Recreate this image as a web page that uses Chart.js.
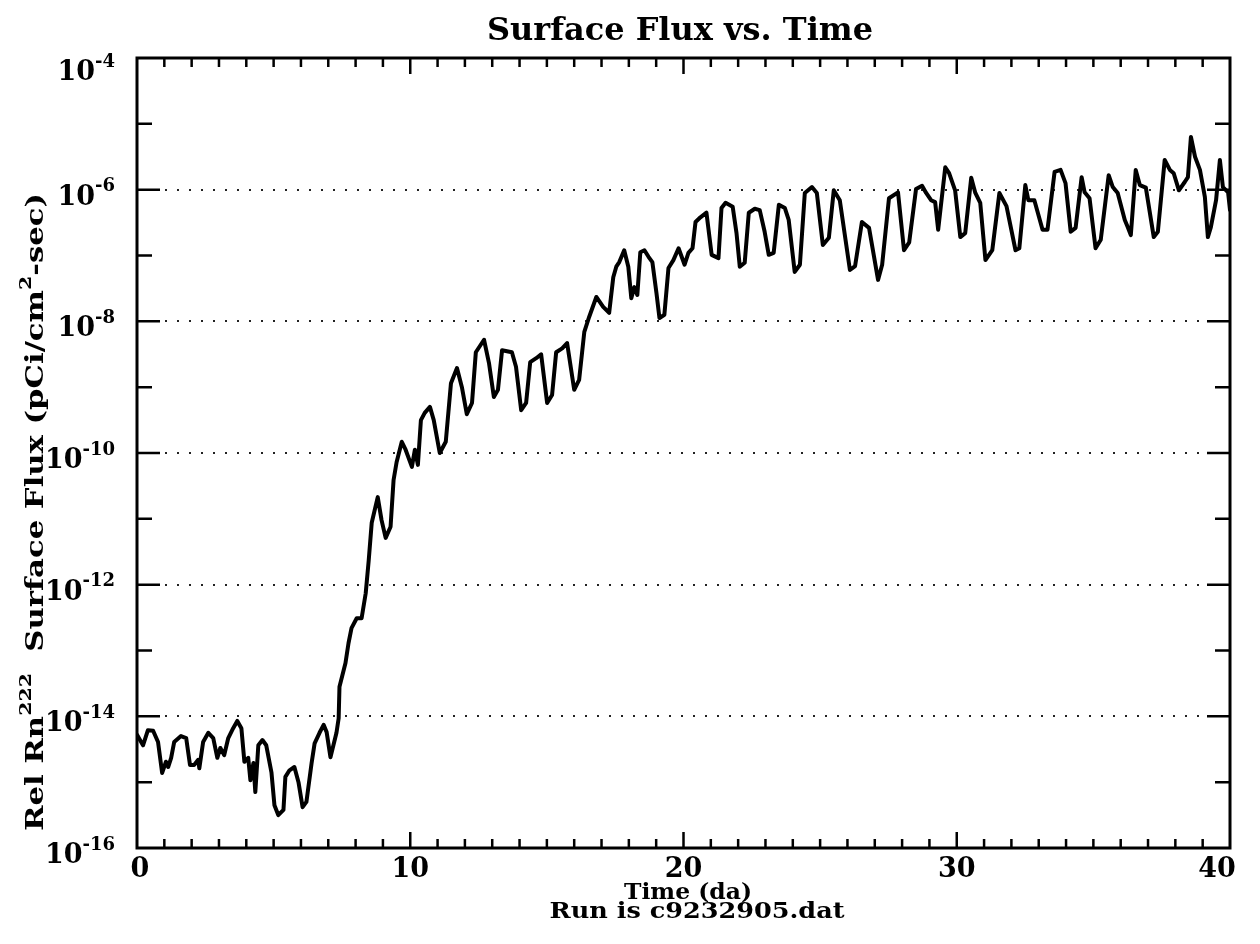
<!DOCTYPE html>
<html>
<head>
<meta charset="utf-8">
<title>Surface Flux vs. Time</title>
<script src="https://cdn.jsdelivr.net/npm/chart.js@4/dist/chart.umd.min.js"></script>
<style>
  html, body { margin: 0; padding: 0; background: #fff; }
  #wrap { width: 1260px; height: 944px; }
</style>
</head>
<body>
<div id="wrap"><canvas id="fluxChart"></canvas></div>
<script>
/* ===== data ===== */
// time in days
const days = [
  0.00,0.22,0.40,0.59,0.77,0.92,1.06,1.14,1.25,1.36,1.61,1.80,1.94,2.09,2.24,2.28,2.42,2.61,2.79,2.94,
  3.05,3.19,3.34,3.52,3.67,3.82,3.93,4.07,4.15,4.26,4.33,4.44,4.59,4.73,4.92,5.03,5.17,5.36,5.43,5.58,
  5.76,5.91,6.06,6.20,6.39,6.50,6.68,6.83,6.94,7.08,7.30,7.38,7.41,
  7.63,7.74,7.85,8.04,8.22,8.37,8.48,8.59,8.81,8.95,9.10,9.28,9.39,9.50,9.69,9.83,10.06,10.17,10.28,10.39,
  10.53,10.72,10.86,11.08,11.30,11.49,11.71,11.89,12.07,12.26,12.40,12.70,12.88,13.06,13.21,13.36,13.72,13.87,
  14.06,14.24,14.39,14.61,14.79,15.01,15.19,15.34,15.56,15.74,16.00,16.18,16.37,16.55,16.81,
  17.06,17.28,17.43,17.54,17.65,17.83,17.98,18.09,18.20,18.31,18.42,18.57,18.72,18.86,19.01,19.12,19.30,19.45,
  19.63,19.82,20.04,20.18,20.33,20.44,20.62,20.84,21.03,21.28,21.39,21.54,21.80,21.94,22.06,22.24,22.39,22.61,
  22.79,22.97,23.12,23.30,23.49,23.71,23.85,24.07,24.26,24.44,24.70,24.88,25.10,25.32,25.50,25.72,26.09,26.28,
  26.53,26.79,27.12,27.27,27.52,27.85,28.07,28.26,28.51,28.73,28.88,29.06,29.21,29.32,29.58,29.72,29.94,30.13,
  30.31,30.53,30.68,30.86,31.05,31.30,31.56,31.82,32.15,32.29,32.51,32.62,32.84,33.14,33.32,33.58,33.80,33.98,
  34.17,34.35,34.57,34.68,34.86,35.08,35.27,35.56,35.71,35.89,36.15,36.26,36.37,36.55,36.70,36.92,37.21,37.36,
  37.61,37.80,37.94,38.13,38.35,38.46,38.57,38.72,38.90,39.08,39.19,39.30,39.49,39.63,39.74,39.93,40.00
];
// log10 of relative Rn-222 surface flux (pCi/cm^2-sec)
const logFlux = [
  -14.28,-14.44,-14.21,-14.22,-14.39,-14.86,-14.69,-14.77,-14.63,-14.39,-14.30,-14.33,-14.74,-14.74,-14.66,-14.79,-14.39,-14.25,-14.33,-14.63,
  -14.48,-14.59,-14.33,-14.18,-14.07,-14.18,-14.69,-14.63,-14.97,-14.71,-15.15,-14.44,-14.36,-14.44,-14.85,-15.35,-15.50,-15.42,-14.92,-14.82,
  -14.77,-15.00,-15.38,-15.30,-14.71,-14.41,-14.25,-14.13,-14.24,-14.62,-14.25,-14.03,-13.55,
  -13.19,-12.89,-12.66,-12.51,-12.51,-12.13,-11.63,-11.06,-10.67,-11.02,-11.29,-11.12,-10.41,-10.14,-9.83,-9.95,-10.21,-9.95,-10.18,-9.50,
  -9.39,-9.30,-9.50,-10.00,-9.83,-8.94,-8.71,-9.00,-9.41,-9.24,-8.47,-8.28,-8.63,-9.15,-9.04,-8.44,-8.47,-8.69,
  -9.35,-9.24,-8.62,-8.56,-8.50,-9.24,-9.12,-8.47,-8.41,-8.33,-9.04,-8.89,-8.16,-7.93,-7.63,
  -7.78,-7.87,-7.33,-7.17,-7.10,-6.92,-7.17,-7.65,-7.48,-7.60,-6.95,-6.92,-7.02,-7.10,-7.57,-7.95,-7.90,-7.19,
  -7.07,-6.89,-7.14,-6.96,-6.89,-6.49,-6.42,-6.35,-6.99,-7.04,-6.28,-6.20,-6.26,-6.66,-7.17,-7.11,-6.35,-6.29,
  -6.31,-6.64,-6.99,-6.96,-6.23,-6.28,-6.46,-7.25,-7.14,-6.05,-5.96,-6.05,-6.84,-6.73,-6.01,-6.16,-7.22,-7.16,
  -6.49,-6.58,-7.37,-7.14,-6.13,-6.04,-6.92,-6.80,-5.99,-5.94,-6.05,-6.16,-6.19,-6.61,-5.66,-5.75,-6.01,-6.72,
  -6.66,-5.82,-6.05,-6.20,-7.07,-6.92,-6.05,-6.25,-6.92,-6.89,-5.93,-6.16,-6.16,-6.61,-6.61,-5.73,-5.70,-5.90,
  -6.64,-6.58,-5.81,-6.04,-6.13,-6.89,-6.76,-5.78,-5.96,-6.05,-6.46,-6.57,-6.69,-5.70,-5.93,-5.97,-6.72,-6.64,
  -5.55,-5.70,-5.75,-6.01,-5.88,-5.81,-5.20,-5.50,-5.70,-6.11,-6.72,-6.57,-6.16,-5.55,-5.96,-6.04,-6.31
];
const xTickLabels = [0, 10, 20, 30, 40];
const yLabelExps  = [-4, -6, -8, -10, -12, -14, -16];
const gridExps    = [-6, -8, -10, -12, -14];

const SERIF = '"DejaVu Serif", "Liberation Serif", serif';

/* draw a row of text pieces (some raised), squeezed/stretched to a width */
function richText(ctx, parts, x, y, size, width, align, supScale){
  const supSize = Math.round(size * (supScale || 0.68));
  let natural = 0;
  parts.forEach(p => {
    ctx.font = 'bold ' + (p.sup ? supSize : size) + 'px ' + SERIF;
    p.w = ctx.measureText(p.t).width;
    natural += p.w;
  });
  const sx = width ? width / natural : 1;
  const total = natural * sx;
  let start = x;
  if (align === 'center') start = x - total / 2;
  if (align === 'right')  start = x - total;
  ctx.save();
  ctx.translate(start, y);
  ctx.scale(sx, 1);
  ctx.fillStyle = '#000';
  ctx.textBaseline = 'alphabetic';
  ctx.textAlign = 'left';
  let cx = 0;
  parts.forEach(p => {
    ctx.font = 'bold ' + (p.sup ? supSize : size) + 'px ' + SERIF;
    ctx.fillText(p.t, cx, p.sup ? -size * 0.5 : 0);
    cx += p.w;
  });
  ctx.restore();
}

const framePlugin = {
  id: 'frame',
  beforeDatasetsDraw(chart){
    const {ctx, chartArea: a, scales: {y}} = chart;
    ctx.save();
    ctx.strokeStyle = '#222';
    ctx.lineWidth = 2;
    ctx.setLineDash([2, 10]);
    gridExps.forEach(e => {
      const py = Math.round(y.getPixelForValue(Math.pow(10, e)));
      ctx.beginPath();
      ctx.moveTo(a.left + 28, py);
      ctx.lineTo(a.right - 4, py);
      ctx.stroke();
    });
    ctx.restore();
  },
  afterDraw(chart){
    const {ctx, chartArea: a, scales: {x, y}} = chart;
    ctx.save();
    ctx.strokeStyle = '#000';
    ctx.lineWidth = 3;
    ctx.strokeRect(a.left, a.top, a.right - a.left, a.bottom - a.top);

    // inward ticks
    ctx.lineWidth = 2.5;
    ctx.beginPath();
    for (let d = 1; d < 40; d++){
      const px = x.getPixelForValue(d);
      const len = d % 10 === 0 ? 16 : 9;
      ctx.moveTo(px, a.bottom); ctx.lineTo(px, a.bottom - len);
      ctx.moveTo(px, a.top);    ctx.lineTo(px, a.top + len);
    }
    for (let e = -15; e <= -5; e++){
      const py = y.getPixelForValue(Math.pow(10, e));
      const len = e % 2 === 0 ? 23 : 15;
      ctx.moveTo(a.left, py);  ctx.lineTo(a.left + len, py);
      ctx.moveTo(a.right, py); ctx.lineTo(a.right - len, py);
    }
    ctx.stroke();

    // y tick labels: 10 with raised exponent
    yLabelExps.forEach(e => {
      const py = y.getPixelForValue(Math.pow(10, e));
      const base = e === -4 ? py + 22 : py + 15;
      richText(ctx, [{t: '10'}, {t: String(e), sup: true}], 115, base, 27, null, 'right', 0.66);
    });

    // x tick labels
    xTickLabels.forEach(v => {
      let px = x.getPixelForValue(v);
      if (v === 40) px -= 13;
      if (v === 0) px += 3;
      richText(ctx, [{t: String(v)}], px, 877, 27, null, 'center');
    });

    // titles
    richText(ctx, [{t: 'Surface Flux vs. Time'}], 680, 40, 31, 386, 'center');
    richText(ctx, [{t: 'Time (da)'}], 688, 899, 22, 128, 'center');
    richText(ctx, [{t: 'Run is c9232905.dat'}], 697, 918, 22, 295, 'center');

    // rotated y axis title
    ctx.save();
    ctx.translate(43, 512);
    ctx.rotate(-Math.PI / 2);
    richText(ctx, [
      {t: 'Rel Rn'}, {t: '222', sup: true}, {t: '  Surface Flux (pCi/cm'}, {t: '2', sup: true}, {t: '-sec)'}
    ], 0, 0, 24, 638, 'center');
    ctx.restore();
    ctx.restore();
  }
};

const ctx = document.getElementById('fluxChart').getContext('2d');
const points = days.map((d, i) => ({x: d, y: Math.pow(10, logFlux[i])}));

new Chart(ctx, {
  type: 'line',
  data: {
    datasets: [{
      label: 'Rel Rn222 Surface Flux',
      data: points,
      borderColor: '#000',
      borderWidth: 4,
      borderJoinStyle: 'round',
      borderCapStyle: 'round',
      pointRadius: 0,
      tension: 0,
      fill: false
    }]
  },
  options: {
    responsive: true,
    maintainAspectRatio: false,
    animation: false,
    layout: { padding: { left: 137, right: 30, top: 58, bottom: 96 } },
    plugins: {
      legend: { display: false },
      tooltip: { enabled: false }
    },
    scales: {
      x: { type: 'linear', min: 0, max: 40, display: false },
      y: { type: 'logarithmic', min: 1e-16, max: 1e-4, display: false }
    }
  },
  plugins: [framePlugin]
});
</script>
</body>
</html>
